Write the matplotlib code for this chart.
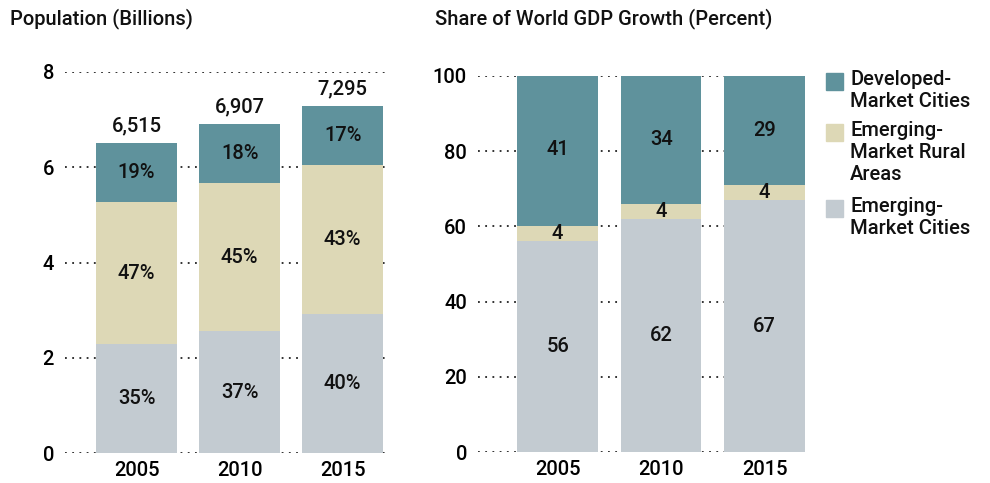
import matplotlib.pyplot as plt
from matplotlib.patches import Rectangle

plt.rcParams["font.family"] = ["Roboto", "DejaVu Sans"]
plt.rcParams["font.weight"] = "medium"

# datos
years = ["2005", "2010", "2015"]
pop_total = [6515, 6907, 7295]          # millones
pop_em_cities = [35, 37, 40]            # % del total
pop_em_rural = [47, 45, 43]
pop_dev_cities = [19, 18, 17]

gdp_em_cities = [56, 62, 67]
gdp_em_rural = [4, 4, 4]
gdp_dev_cities = [41, 34, 29]

legend_labels = ["Developed-\nMarket Cities", "Emerging-\nMarket Rural\nAreas", "Emerging-\nMarket Cities"]

c_dev = "#5f929c"
c_rural = "#ddd8b6"
c_em = "#c3cbd1"
fs = 14.5
tc = "#111111"

fig = plt.figure(figsize=(9.9, 4.83), dpi=100)
ax1 = fig.add_axes([65 / 990, 0.062, 320 / 990, 0.789])
ax2 = fig.add_axes([478 / 990, 0.064, 328 / 990, 0.779])


def estilo(ax, ticks):
    ax.set_yticks(ticks)
    ax.set_yticklabels([str(t) for t in ticks], fontsize=fs)
    ax.tick_params(axis="y", length=0, pad=8)
    ax.tick_params(axis="x", length=0, pad=6, labelsize=fs)
    for s in ax.spines.values():
        s.set_visible(False)
    for t in ticks:
        ax.axhline(t, color="#222222", linestyle=(0, (1, 3)), linewidth=1.3, zorder=0)


x = [0, 1, 2]

# poblacion
total_b = [t / 1000 for t in pop_total]
h_em = [t * p / 100 for t, p in zip(total_b, pop_em_cities)]
h_dev = [t * p / 100 for t, p in zip(total_b, pop_dev_cities)]
h_rural = [t - a - b for t, a, b in zip(total_b, h_em, h_dev)]
bot2 = [a + b for a, b in zip(h_em, h_rural)]
w1 = 0.79
ax1.bar(x, h_em, width=w1, color=c_em, zorder=2)
ax1.bar(x, h_rural, bottom=h_em, width=w1, color=c_rural, zorder=2)
ax1.bar(x, h_dev, bottom=bot2, width=w1, color=c_dev, zorder=2)
for i in x:
    ax1.text(i, h_em[i] / 2, f"{pop_em_cities[i]}%", ha="center", va="center", fontsize=fs, color=tc)
    ax1.text(i, h_em[i] + h_rural[i] / 2, f"{pop_em_rural[i]}%", ha="center", va="center", fontsize=fs, color=tc)
    ax1.text(i, bot2[i] + h_dev[i] / 2, f"{pop_dev_cities[i]}%", ha="center", va="center", fontsize=fs, color=tc)
    ax1.text(i, total_b[i] + 0.15, f"{pop_total[i]:,}", ha="center", va="bottom", fontsize=fs, color=tc)
ax1.set_ylim(0, 8)
ax1.set_xlim(-0.694, 2.41)
ax1.set_xticks(x)
ax1.set_xticklabels(years)
estilo(ax1, [0, 2, 4, 6, 8])

# PIB
w2 = 0.78
b2 = [a + b for a, b in zip(gdp_em_cities, gdp_em_rural)]
ax2.bar(x, gdp_em_cities, width=w2, color=c_em, zorder=2)
ax2.bar(x, gdp_em_rural, bottom=gdp_em_cities, width=w2, color=c_rural, zorder=2)
ax2.bar(x, gdp_dev_cities, bottom=b2, width=w2, color=c_dev, zorder=2)
for i in x:
    ax2.text(i, gdp_em_cities[i] / 2, str(gdp_em_cities[i]), ha="center", va="center", fontsize=fs, color=tc)
    ax2.text(i, gdp_em_cities[i] + gdp_em_rural[i] / 2, str(gdp_em_rural[i]), ha="center", va="center", fontsize=fs, color=tc)
    ax2.text(i, b2[i] + gdp_dev_cities[i] / 2, str(gdp_dev_cities[i]), ha="center", va="center", fontsize=fs, color=tc)
ax2.set_ylim(0, 100)
ax2.set_xlim(-0.77, 2.40)
ax2.set_xticks(x)
ax2.set_xticklabels(years)
estilo(ax2, [0, 20, 40, 60, 80, 100])

# titulos
fig.text(10 / 990, 1 - 8 / 483, "Population (Billions)", ha="left", va="top", fontsize=fs, color=tc)
fig.text(435 / 990, 1 - 8 / 483, "Share of World GDP Growth (Percent)", ha="left", va="top", fontsize=fs, color=tc)

# leyenda
colores = [c_dev, c_rural, c_em]
tops = [73, 124, 200]
for lab, col, t in zip(legend_labels, colores, tops):
    fig.patches.append(Rectangle((826 / 990, 1 - (t + 17) / 483), 17 / 990, 17 / 483,
                                 transform=fig.transFigure, color=col))
    fig.text(850 / 990, 1 - (t - 3) / 483, lab, ha="left", va="top", fontsize=fs,
             linespacing=1.2, color=tc)

fig.savefig("out.png", dpi=100)
